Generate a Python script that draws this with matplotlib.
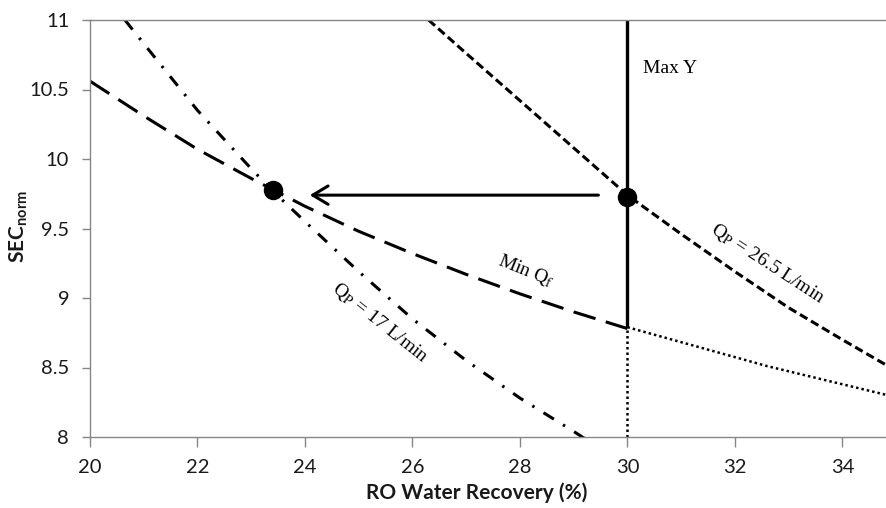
import numpy as np
import matplotlib
matplotlib.use("Agg")
import matplotlib.pyplot as plt

# curves (RO recovery %, normalised SEC)
minqf_x = [20, 21, 22, 23, 23.4, 24, 25, 26, 27, 28, 29, 30]
minqf_y = [10.56, 10.31, 10.07, 9.86, 9.78, 9.66, 9.48, 9.32, 9.17, 9.03, 8.90, 8.78]

qp17_x = [20.65, 21, 22, 23, 23.4, 24, 25, 26, 27, 28, 29, 29.2]
qp17_y = [11.0, 10.83, 10.35, 9.93, 9.77, 9.55, 9.19, 8.85, 8.55, 8.28, 8.04, 7.99]

qp265_x = [26.3, 27, 28, 29, 30, 31, 32, 33, 34, 34.85]
qp265_y = [11.0, 10.76, 10.42, 10.08, 9.74, 9.46, 9.19, 8.93, 8.70, 8.51]

dotted_x = [30, 32.6, 34.85]
dotted_y = [8.79, 8.51, 8.30]

maxy_x = 30
maxy_lo = 8.79
points_x = [23.4, 30]
points_y = [9.78, 9.73]
arrow_from = (29.46, 9.74)
arrow_to = (24.09, 9.74)

xticks = [20, 22, 24, 26, 28, 30, 32, 34]
yticks = [8, 8.5, 9, 9.5, 10, 10.5, 11]
ytick_labels = ['8', '8.5', '9', '9.5', '10', '10.5', '11']

plt.rcParams['mathtext.fontset'] = 'custom'
plt.rcParams['mathtext.bf'] = 'Lato:bold'
plt.rcParams['mathtext.rm'] = 'Lato'

fig = plt.figure(figsize=(8.87, 5.08), dpi=100)
ax = fig.add_axes([90 / 887, 1 - 437 / 508, 797 / 887, 417 / 508])

lw = 2.2
ax.plot(minqf_x, minqf_y, color='k', lw=lw, linestyle=(0, (7.5, 3.5)))
ax.plot(qp17_x, qp17_y, color='k', lw=lw, linestyle=(0, (4, 3.5, 0.8, 3.5)))
ax.plot(qp265_x, qp265_y, color='k', lw=lw, linestyle=(0, (2.8, 1.4)))
ax.plot(dotted_x, dotted_y, color='k', lw=1.8, linestyle=(0, (1, 1.2)))
ax.plot([maxy_x, maxy_x], [8, maxy_lo], color='k', lw=1.8, linestyle=(0, (1, 1.2)))
ax.plot([maxy_x, maxy_x], [maxy_lo, 11], color='k', lw=2.4, solid_capstyle='butt')
ax.plot(points_x, points_y, 'o', color='k', markersize=13, zorder=5)

ax.annotate('', xy=arrow_to, xytext=arrow_from,
            arrowprops=dict(arrowstyle='->,head_length=0.5,head_width=0.3',
                            lw=2.2, color='k', mutation_scale=22,
                            shrinkA=0, shrinkB=0))

serif = dict(family='Liberation Serif', fontsize=14, math_fontfamily='stix')
ax.text(30.29, 10.65, 'Max Y', ha='left', va='center', **serif)
ax.text(25.40, 8.82, r'Q$_\mathrm{P}$ = 17 L/min', ha='center', va='center',
        rotation=-38.5, rotation_mode='anchor', **serif)
ax.text(32.61, 9.245, r'Q$_\mathrm{P}$ = 26.5 L/min', ha='center', va='center',
        rotation=-33, rotation_mode='anchor', **serif)
ax.text(28.12, 9.196, r'Min Q$_\mathrm{f}$', ha='center', va='center',
        rotation=-22, rotation_mode='anchor', **serif)

ax.set_xlim(20, 34.83)
ax.set_ylim(8, 11)
ax.set_xticks(xticks)
ax.set_yticks(yticks)
ax.set_yticklabels(ytick_labels)

grey = '#868686'
for side in ['left', 'bottom', 'top']:
    ax.spines[side].set_color(grey)
    ax.spines[side].set_linewidth(1.0)
ax.spines['right'].set_visible(False)
ax.tick_params(axis='both', direction='out', width=1.0, color=grey,
               labelsize=14.5, labelcolor='#1a1a1a')
ax.tick_params(axis='x', length=7, pad=9)
ax.tick_params(axis='y', length=6, pad=9)
for lab in ax.get_xticklabels() + ax.get_yticklabels():
    lab.set_family('Lato')

fig.text(477 / 887, 1 - 493 / 508, 'RO Water Recovery (%)', family='Lato',
         fontweight='bold', fontsize=15, ha='center', va='center', color='#1a1a1a')
fig.text(19 / 887, 1 - 226 / 508, r'$\mathbf{SEC}_{\mathbf{norm}}$', fontsize=15,
         rotation=90, ha='center', va='center', color='#1a1a1a')

fig.savefig('out.png', dpi=100)
